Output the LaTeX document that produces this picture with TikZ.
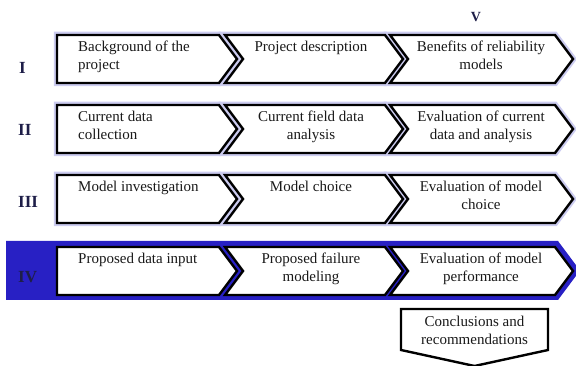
\documentclass[tikz,border=0pt]{standalone}
\usepackage{fontspec}
\setmainfont{Liberation Serif}
\definecolor{bandblue}{RGB}{40,32,196}
\definecolor{halo}{RGB}{204,204,240}
\definecolor{numeral}{RGB}{30,30,72}
\begin{document}
\begin{tikzpicture}[x=1pt,y=-1pt,
  stagebox/.style={fill=white,draw=black,line width=2.4pt,line join=miter},
  haloline/.style={draw=halo,line width=6.5pt,line join=miter},
  lefttext/.style={anchor=north west,inner sep=0pt,align=left,font=\fontsize{15}{18}\selectfont,text=black!90},
  midtext/.style={anchor=north,inner sep=0pt,align=center,font=\fontsize{15}{18}\selectfont,text=black!90},
  rowlabel/.style={anchor=west,inner sep=0pt,font=\fontsize{17}{18}\selectfont\bfseries,text=numeral}]
\useasboundingbox (0,0) rectangle (576,366);
\begin{scope}
\clip (0,0) rectangle (576,366);

% band behind the fourth row
\fill[bandblue] (6,241) -- (558,241) -- (580,270.5) -- (558,300) -- (6,300) -- cycle;

% three chevron boxes per row; rows I-III get a light halo
\foreach \t/\h in {35/1,105/1,175/1,247/0}{
  \pgfmathsetmacro{\m}{\t+24}
  \pgfmathsetmacro{\b}{\t+48}
  \ifnum\h=1
    \path[haloline] (57,\t) -- (219,\t) -- (237,\m) -- (219,\b) -- (57,\b) -- cycle;
    \path[haloline] (225,\t) -- (385,\t) -- (403,\m) -- (385,\b) -- (225,\b) -- (243,\m) -- cycle;
    \path[haloline] (390,\t) -- (555,\t) -- (573,\m) -- (555,\b) -- (390,\b) -- (408,\m) -- cycle;
  \fi
  \path[stagebox] (57,\t) -- (219,\t) -- (237,\m) -- (219,\b) -- (57,\b) -- cycle;
  \path[stagebox] (225,\t) -- (385,\t) -- (403,\m) -- (385,\b) -- (225,\b) -- (243,\m) -- cycle;
  \path[stagebox] (390,\t) -- (555,\t) -- (573,\m) -- (555,\b) -- (390,\b) -- (408,\m) -- cycle;
}

% closing stage pointing down
\path[stagebox] (401,309) -- (548,309) -- (548,350) -- (474.5,366) -- (401,350) -- cycle;
\end{scope}

% row labels
\node[rowlabel] (rI) at (19,68) {I};
\node[rowlabel] (rII) at (18,130) {II};
\node[rowlabel] (rIII) at (18,202) {III};
\node[rowlabel] (rIV) at (18,277) {IV};
\node[anchor=center,inner sep=0pt,font=\fontsize{14}{16}\selectfont\bfseries,text=numeral] (rV) at (476,17) {V};

% row I
\node[lefttext] (bg) at (78,41) {Background of the\\project};
\node[midtext] (pd) at (311,41) {Project description};
\node[midtext] (br) at (481,41) {Benefits of reliability\\models};
% row II
\node[lefttext] (cd) at (78,111) {Current data\\collection};
\node[midtext] (cf) at (311,111) {Current field data\\analysis};
\node[midtext] (ec) at (481,111) {Evaluation of current\\data and analysis};
% row III
\node[lefttext] (mi) at (78,181) {Model investigation};
\node[midtext] (mc) at (311,181) {Model choice};
\node[midtext] (em) at (481,181) {Evaluation of model\\choice};
% row IV
\node[lefttext] (pi) at (78,253) {Proposed data input};
\node[midtext] (pf) at (311,253) {Proposed failure\\modeling};
\node[midtext] (ep) at (481,253) {Evaluation of model\\performance};
% closing stage
\node[midtext] (cr) at (474.5,316) {Conclusions and\\recommendations};
\end{tikzpicture}
\end{document}
